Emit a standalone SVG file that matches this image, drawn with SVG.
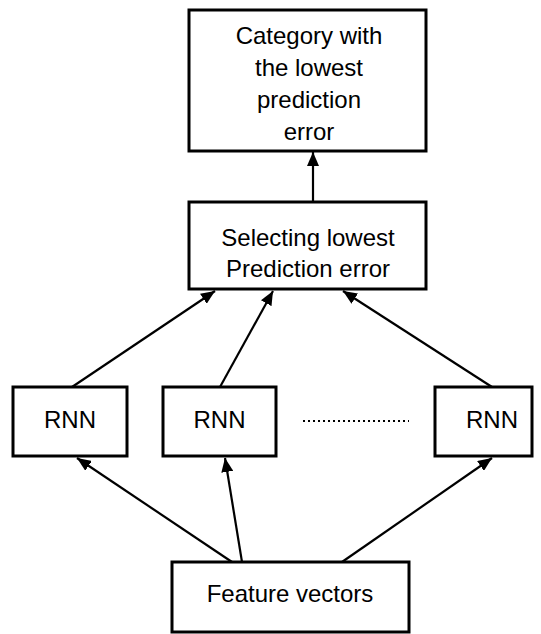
<svg xmlns="http://www.w3.org/2000/svg" width="541" height="634" viewBox="0 0 541 634">
  <style>
    .box { fill: #ffffff; stroke: #000000; stroke-width: 3; }
    .label { font-family: "Liberation Sans", Arial, sans-serif; font-size: 24px; fill: #000000; text-anchor: middle; }
    .edge { stroke: #000000; stroke-width: 2.2; fill: none; marker-end: url(#arrow); }
    .dots { stroke: #000000; stroke-width: 2; stroke-dasharray: 2 3; }
  </style>
  <defs>
    <marker id="arrow" markerUnits="userSpaceOnUse" viewBox="0 0 14 12" refX="14" refY="6" markerWidth="14" markerHeight="12" orient="auto">
      <path d="M0,0 L14,6 L0,12 z" fill="#000000"/>
    </marker>
  </defs>
  <rect width="541" height="634" fill="#ffffff"/>

  <g id="connectors">
    <line class="edge" x1="313" y1="202" x2="313" y2="152"/>
    <line class="edge" x1="72" y1="387" x2="215" y2="291"/>
    <line class="edge" x1="220" y1="387" x2="273" y2="291"/>
    <line class="edge" x1="492" y1="387" x2="343" y2="291"/>
    <line class="edge" x1="232" y1="562" x2="77" y2="458"/>
    <line class="edge" x1="242" y1="562" x2="225" y2="458"/>
    <line class="edge" x1="342" y1="562" x2="492" y2="458"/>
  </g>

  <g id="category">
    <rect class="box" x="189" y="10" width="237" height="141"/>
    <text class="label" x="309" y="44">Category with</text>
    <text class="label" x="309" y="76">the lowest</text>
    <text class="label" x="309" y="108">prediction</text>
    <text class="label" x="309" y="140">error</text>
  </g>

  <g id="selecting">
    <rect class="box" x="189" y="202" width="237" height="87"/>
    <text class="label" x="308" y="246">Selecting lowest</text>
    <text class="label" x="308" y="277">Prediction error</text>
  </g>

  <g id="rnn1">
    <rect class="box" x="13" y="387" width="114" height="69"/>
    <text class="label" x="70" y="428">RNN</text>
  </g>

  <g id="rnn2">
    <rect class="box" x="163" y="387" width="113" height="69"/>
    <text class="label" x="219.5" y="428">RNN</text>
  </g>

  <g id="ellipsis">
    <line class="dots" x1="303" y1="421" x2="409" y2="421"/>
  </g>

  <g id="rnn3">
    <rect class="box" x="435" y="387" width="97" height="69"/>
    <text class="label" x="492" y="428">RNN</text>
  </g>

  <g id="features">
    <rect class="box" x="172" y="562" width="237" height="70"/>
    <text class="label" x="290" y="602">Feature vectors</text>
  </g>
</svg>
